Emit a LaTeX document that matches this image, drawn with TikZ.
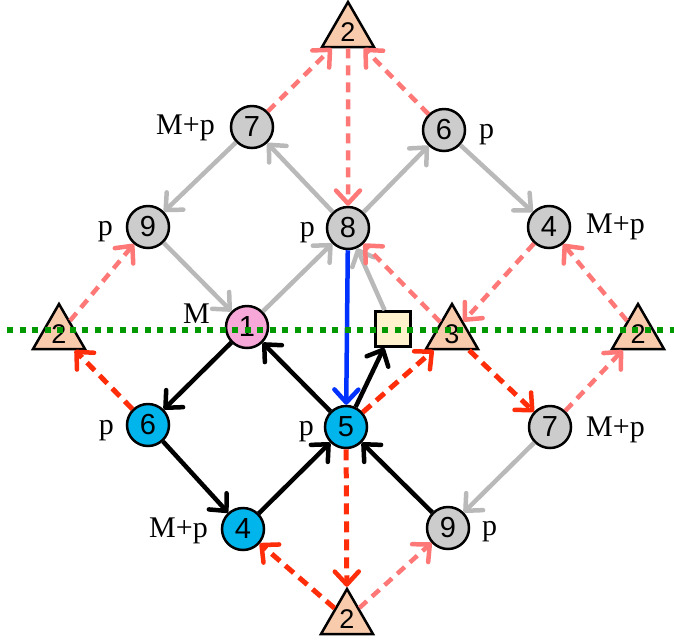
\documentclass[tikz,border=0pt]{standalone}
\usepackage{fontspec}
\setmainfont{Liberation Serif}
\newfontfamily\digitfont{Liberation Sans}
\usetikzlibrary{arrows.meta,shapes.geometric}
\definecolor{gcol}{RGB}{204,204,204}
\definecolor{bcol}{RGB}{0,180,236}
\definecolor{pcol}{RGB}{248,168,216}
\definecolor{tcol}{RGB}{248,203,173}
\definecolor{scol}{RGB}{255,242,204}
\definecolor{gecol}{RGB}{185,185,185}
\definecolor{recol}{RGB}{255,45,10}
\definecolor{lecol}{RGB}{255,120,120}
\definecolor{becol}{RGB}{0,50,255}
\definecolor{grcol}{RGB}{0,153,0}
\begin{document}
\begin{tikzpicture}[x=1pt,y=-1pt,
  every node/.style={inner sep=0pt},
  vtx/.style={circle, draw=black, line width=2.5pt, minimum size=42pt, font=\digitfont\fontsize{29}{29}\selectfont},
  gv/.style={vtx, fill=gcol},
  bv/.style={vtx, fill=bcol},
  pv/.style={vtx, fill=pcol},
  tri/.style={regular polygon, regular polygon sides=3, draw=black, line width=2.5pt, fill=tcol, minimum size=60pt, font=\digitfont\fontsize{27}{27}\selectfont},
  sqbox/.style={rectangle, draw=black, fill=scol, line width=2.5pt, minimum size=35pt},
  lab/.style={font=\fontsize{30}{30}\selectfont, inner sep=0pt},
  tipend/.style={-{Straight Barb[length=13pt,width=24pt,line width=4.5pt,round]}},
  ge/.style={tipend, draw=gecol, line width=4.5pt},
  ke/.style={tipend, draw=black, line width=4.5pt},
  re/.style={tipend, draw=recol, line width=5pt, dash pattern=on 11pt off 7pt},
  le/.style={tipend, draw=lecol, line width=4.5pt, dash pattern=on 10pt off 7pt},
  be/.style={tipend, draw=becol, line width=4.5pt},
  grline/.style={draw=grcol, line width=6pt, dash pattern=on 6pt off 6.5pt},
]
\useasboundingbox (0,0) rectangle (674,641);

% nodes
\node[tri] (t2) at (348,32) {2};
\node[gv] (n7) at (252,127) {7};
\node[gv] (n6t) at (444,130) {6};
\node[gv] (n9) at (148,227) {9};
\node[gv] (n8) at (348,228) {8};
\node[gv] (n4r) at (549,227) {4};
\node[tri] (l2) at (59,334) {2};
\node[pv] (n1) at (247,327) {1};
\node[sqbox] (sq) at (393,329) {};
\node[tri] (t3) at (452,334) {3};
\node[tri] (r2) at (638,334) {2};
\node[bv] (n6l) at (148,425) {6};
\node[bv] (n5) at (346,427) {5};
\node[gv] (n7r) at (550,427) {7};
\node[bv] (n4b) at (243,529) {4};
\node[gv] (n9r) at (448,528) {9};
\node[tri] (b2) at (347,619) {2};

% labels
\node[lab, anchor=base east] (L7) at (215,134) {M+p};
\node[lab, anchor=base west] (L6t) at (479,138) {p};
\node[lab, anchor=base east] (L9) at (113,235) {p};
\node[lab, anchor=base east] (L8) at (315,236) {p};
\node[lab, anchor=base west] (L4r) at (586,233) {M+p};
\node[lab, anchor=base east] (L1) at (210,323) {M};
\node[lab, anchor=base east] (L6l) at (114,434) {p};
\node[lab, anchor=base east] (L5) at (314,435) {p};
\node[lab, anchor=base west] (L7r) at (586,436) {M+p};
\node[lab, anchor=base east] (L4b) at (208,537) {M+p};
\node[lab, anchor=base west] (L9r) at (482,535) {p};

% gray edges
\draw[ge] (n7) -- (n9);
\draw[ge] (n9) -- (n1);
\draw[ge] (n1) -- (n8);
\draw[ge] (n8) -- (n7);
\draw[ge] (n8) -- (n6t);
\draw[ge] (n6t) -- (n4r);
\draw[ge] (sq) -- (n8);
\draw[ge] (n7r) -- (n9r);

% light red dashed edges
\draw[le] (n7) -- (t2);
\draw[le] (n6t) -- (t2);
\draw[le] (t2) -- (n8);
\draw[le] (l2) -- (n9);
\draw[le] (n4r) -- (t3);
\draw[le] (t3) -- (n8);
\draw[le] (r2) -- (n4r);
\draw[le] (n7r) -- (r2);
\draw[le] (b2) -- (n9r);

% red dashed edges
\draw[re] (n6l) -- (l2);
\draw[re] (n5) -- (t3);
\draw[re] (t3) -- (n7r);
\draw[re] (n5) -- (b2);
\draw[re] (b2) -- (n4b);

% black edges
\draw[ke] (n1) -- (n6l);
\draw[ke] (n6l) -- (n4b);
\draw[ke] (n4b) -- (n5);
\draw[ke] (n5) -- (n1);
\draw[ke] (n5) -- (sq);
\draw[ke] (n9r) -- (n5);

% blue edge
\draw[be] (n8) -- (n5);

% green dotted line
\coordinate (gl) at (7,330);
\coordinate (gr) at (674,330);
\draw[grline] (gl) -- (gr);
\end{tikzpicture}
\end{document}
